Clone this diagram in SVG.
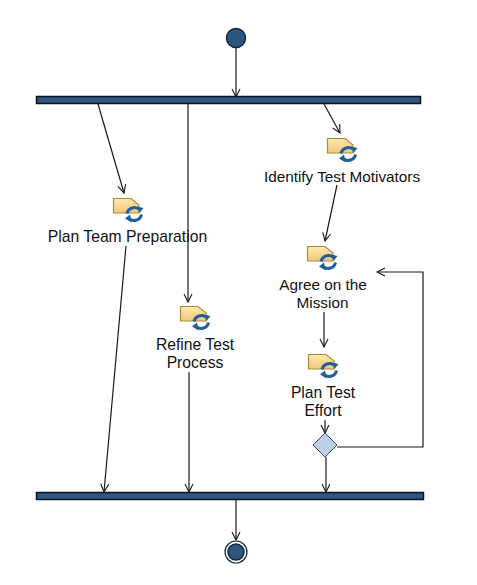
<svg xmlns="http://www.w3.org/2000/svg" width="477" height="585" viewBox="0 0 477 585">
<style>
.bar{fill:#2f5581;stroke:#0a1220;stroke-width:1.5}
.st{fill:#2f5581;stroke:#14273f;stroke-width:1.5}
.c{fill:none;stroke:#1a1a1a;stroke-width:1.2;marker-end:url(#a)}
text{font-family:"Liberation Sans",Arial,sans-serif;font-size:15.7px;fill:#111;text-anchor:middle}
</style>
<defs>
<marker id="a" markerUnits="userSpaceOnUse" markerWidth="12" markerHeight="12" refX="9" refY="5" orient="auto"><path d="M1 1L9 5L1 9" fill="none" stroke="#1a1a1a" stroke-width="1.1"/></marker>
<linearGradient id="g" x1="0" y1="0" x2="0" y2="1"><stop offset="0" stop-color="#fdeab0"/><stop offset="1" stop-color="#f0c878"/></linearGradient>
<g id="ic">
<path d="M0.5 0.500H18L26 7V15H0.500Z" fill="url(#g)" stroke="#b08a3c" stroke-width="1.2"/>
<path d="M14 15.500A7.500 7 0 0 1 26 11" fill="none" stroke="#1f5f9c" stroke-width="3"/>
<path d="M28.500 16.500A7.500 7 0 0 1 16 20.500" fill="none" stroke="#1f5f9c" stroke-width="3"/>
<path d="M24 8.500L30.500 10L26.500 15Z" fill="#1f5f9c"/>
<path d="M18.500 24.500L12 20.500L17 16.500Z" fill="#1f5f9c"/>
</g>
</defs>
<rect width="477" height="585" fill="#fff"/>
<g id="connectors">
<path class="c" d="M236 48V97"/>
<path class="c" d="M98 104L124 193"/>
<path class="c" d="M188 104V302"/>
<path class="c" d="M324 104L340 133"/>
<path class="c" d="M337 185L325 241"/>
<path class="c" d="M324 312V347"/>
<path class="c" d="M325 420V433"/>
<path class="c" d="M126 246L104 492"/>
<path class="c" d="M189 372V492"/>
<path class="c" d="M326 457V492"/>
<path class="c" d="M337 447H423V272H377"/>
<path class="c" d="M236 499V540"/>
</g>
<g id="start"><circle class="st" cx="236" cy="38" r="9.500"/></g>
<g id="fork"><rect class="bar" x="36.500" y="96.500" width="384" height="7"/></g>
<g id="join"><rect class="bar" x="36.500" y="492.500" width="387" height="7"/></g>
<g id="plan-team"><use href="#ic" x="113" y="198"/><text x="127.500" y="242">Plan Team Preparation</text></g>
<g id="refine"><use href="#ic" x="180" y="306"/><text x="195" y="350">Refine Test</text><text x="195" y="368">Process</text></g>
<g id="identify"><use href="#ic" x="327" y="138"/><text x="342" y="182" style="font-size:15.3px">Identify Test Motivators</text></g>
<g id="agree"><use href="#ic" x="307" y="246"/><text x="323" y="290" style="font-size:15.3px">Agree on the</text><text x="322.500" y="308" style="font-size:15.3px">Mission</text></g>
<g id="plan-effort"><use href="#ic" x="308" y="354"/><text x="323" y="398">Plan Test</text><text x="323" y="416">Effort</text></g>
<g id="decision"><path d="M325 433L337 445L325 457L313 445Z" fill="#bccfe6" stroke="#3a4a5a"/></g>
<g id="end"><circle cx="236" cy="552" r="11" fill="#fff" stroke="#14273f" stroke-width="1.2"/><circle class="st" cx="236" cy="552" r="8"/></g>
</svg>
